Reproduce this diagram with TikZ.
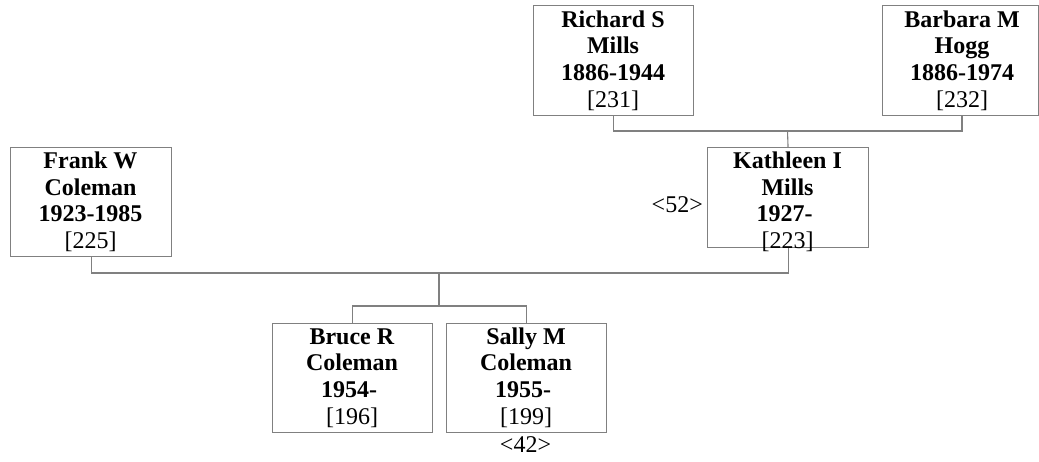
\documentclass[tikz,border=0pt]{standalone}
\usepackage{fontspec}
\setmainfont{Liberation Serif}
\begin{document}
\begin{tikzpicture}[x=1pt,y=-1pt,
  pbox/.style={draw=boxgray,line width=1.1pt,rectangle,inner sep=0pt,anchor=north west},
  ptext/.style={anchor=north,inner sep=0pt,align=center,font=\fontsize{24}{26.6}\selectfont},
  tag/.style={inner sep=0pt,font=\fontsize{24}{26.6}\selectfont},
  conn/.style={draw=boxgray,line width=1.1pt}]
\definecolor{boxgray}{rgb}{0.5,0.5,0.5}
\useasboundingbox (0,0) rectangle (1039,461);
% boxes
\node[pbox,minimum width=160pt,minimum height=110pt] (rich) at (533,5) {};
\node[pbox,minimum width=156pt,minimum height=110pt] (barb) at (882,5) {};
\node[pbox,minimum width=161pt,minimum height=100pt] (kath) at (707,147) {};
\node[pbox,minimum width=161pt,minimum height=109pt] (frank) at (10,147) {};
\node[pbox,minimum width=160pt,minimum height=109pt] (bruce) at (272,323) {};
\node[pbox,minimum width=160pt,minimum height=109pt] (sally) at (446,323) {};
% texts
\node[ptext] (rt) at (613,5) {\rule{0pt}{22pt}\textbf{Richard S}\\\textbf{Mills}\\\textbf{1886-1944}\\{[231]}};
\node[ptext] (bt) at (962,5) {\rule{0pt}{22pt}\textbf{Barbara M}\\\textbf{Hogg}\\\textbf{1886-1974}\\{[232]}};
\node[ptext] (kt) at (787.5,147) {\rule{0pt}{21.5pt}\textbf{Kathleen I}\\\textbf{Mills}\\\textbf{1927-}\kern6pt\\{[223]}};
\node[ptext] (ft) at (90.5,147) {\rule{0pt}{21.5pt}\textbf{Frank W}\\\textbf{Coleman}\\\textbf{1923-1985}\\{[225]}};
\node[ptext] (brt) at (352,323) {\rule{0pt}{21pt}\textbf{Bruce R}\\\textbf{Coleman}\\\textbf{1954-}\kern6pt\\{[196]}};
\node[ptext] (st) at (526,323) {\rule{0pt}{21pt}\textbf{Sally M}\\\textbf{Coleman}\\\textbf{1955-}\kern6pt\\{[199]}};
\node[tag,anchor=base east] (k52) at (703,212) {<52>};
\node[tag,anchor=base] (s42) at (525.5,452) {<42>};
% connectors
\coordinate (pj) at (787.5,131);
\coordinate (mj) at (439,273);
\coordinate (cj) at (439,306);
\draw[conn] (rich.south) |- (pj -| bt) -- (barb.south -| bt);
\draw[conn] (pj) -- (kath.north);
\draw[conn] (frank.south) |- (mj) -| (kath.south);
\draw[conn] (mj) -- (cj);
\draw[conn] (bruce.north) |- (cj) -| (sally.north);
\end{tikzpicture}
\end{document}
